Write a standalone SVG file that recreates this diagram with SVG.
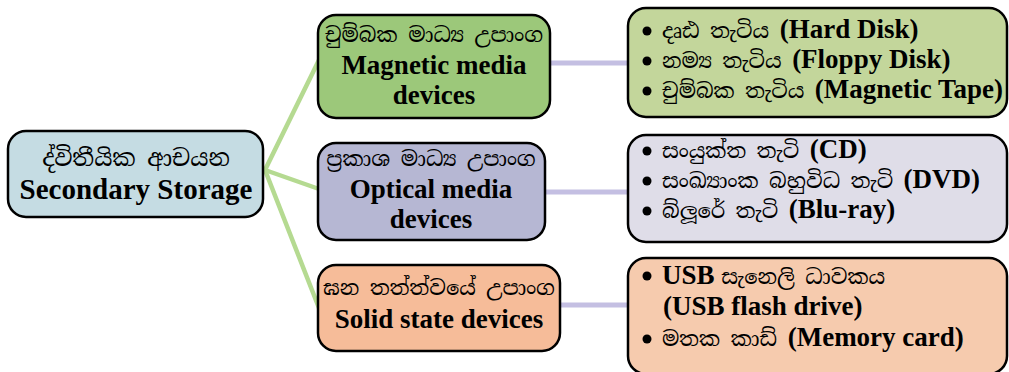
<svg xmlns="http://www.w3.org/2000/svg" width="1009" height="372" viewBox="0 0 1009 372">
<style>
.box{stroke:#000;stroke-width:2.5}
.si{font-family:'Noto Serif Sinhala','Noto Sans Sinhala','Liberation Serif',serif;font-size:21px;fill:#000}
.en{font-family:'Liberation Serif','DejaVu Serif',serif;font-weight:bold;font-size:27px;fill:#000}
.c{text-anchor:middle}
.g{stroke:#b5da91;stroke-width:4.5;fill:none;stroke-linecap:round}
.v{stroke:#c4bfe2;stroke-width:5;fill:none}
</style>
<rect width="1009" height="372" fill="#fff"/>
<g id="connectors">
<line class="g" x1="265" y1="170" x2="319" y2="60"/>
<line class="g" x1="265" y1="170" x2="319" y2="189"/>
<line class="g" x1="265" y1="170" x2="319" y2="308"/>
<line class="v" x1="550" y1="63" x2="628" y2="63"/>
<line class="v" x1="545" y1="192" x2="628" y2="192"/>
<line class="v" x1="560" y1="305" x2="628" y2="305"/>
</g>
<g id="secondary-storage">
<rect class="box" x="8" y="131" width="255" height="86" rx="18" fill="#c5dce3"/>
<text class="si c" x="136" y="166" style="font-size:23px">ද්විතීයික ආචයන</text>
<text class="en c" x="136" y="199" style="font-size:29px">Secondary Storage</text>
</g>
<g id="magnetic">
<rect class="box" x="318" y="15" width="232" height="103" rx="18" fill="#9cc87a"/>
<text class="si c" x="434" y="42">චුම්බක මාධ්‍ය උපාංග</text>
<text class="en c" x="434" y="74">Magnetic media</text>
<text class="en c" x="434" y="104">devices</text>
</g>
<g id="optical">
<rect class="box" x="318" y="143" width="227" height="97" rx="18" fill="#b6b7d3"/>
<text class="si c" x="431" y="166">ප්‍රකාශ මාධ්‍ය උපාංග</text>
<text class="en c" x="431" y="198">Optical media</text>
<text class="en c" x="431" y="228">devices</text>
</g>
<g id="solid">
<rect class="box" x="318" y="265" width="242" height="86" rx="18" fill="#f6bc99"/>
<text class="si c" x="439" y="295">ඝන තත්ත්වයේ උපාංග</text>
<text class="en c" x="439" y="328">Solid state devices</text>
</g>
<g id="magnetic-list">
<rect class="box" x="628" y="8" width="379" height="109" rx="18" fill="#c3d69b"/>
<circle cx="647" cy="31" r="4.5"/><circle cx="647" cy="61" r="4.5"/><circle cx="647" cy="91" r="4.5"/>
<text x="662" y="38"><tspan class="si">දෘඪ තැටිය </tspan><tspan class="en">(Hard Disk)</tspan></text>
<text x="662" y="68"><tspan class="si">නම්‍ය තැටිය </tspan><tspan class="en">(Floppy Disk)</tspan></text>
<text x="662" y="98"><tspan class="si">චුම්බක තැටිය </tspan><tspan class="en">(Magnetic Tape)</tspan></text>
</g>
<g id="optical-list">
<rect class="box" x="628" y="135" width="379" height="107" rx="18" fill="#dfdde8"/>
<circle cx="647" cy="151" r="4.5"/><circle cx="647" cy="181" r="4.5"/><circle cx="647" cy="211" r="4.5"/>
<text x="662" y="158"><tspan class="si">සංයුක්ත තැටි </tspan><tspan class="en">(CD)</tspan></text>
<text x="662" y="188"><tspan class="si">සංඛ්‍යාංක බහුවිධ තැටි </tspan><tspan class="en">(DVD)</tspan></text>
<text x="662" y="218"><tspan class="si">බ්ලූරේ තැටි </tspan><tspan class="en">(Blu-ray)</tspan></text>
</g>
<g id="solid-list">
<rect class="box" x="628" y="258" width="379" height="116" rx="18" fill="#f6cbae"/>
<circle cx="647" cy="276" r="4.5"/><circle cx="647" cy="339" r="4.5"/>
<text x="662" y="284"><tspan class="en">USB </tspan><tspan class="si">සැනෙලි ධාවකය</tspan></text>
<text class="en" x="663" y="315">(USB flash drive)</text>
<text x="662" y="346"><tspan class="si">මතක කාඩ් </tspan><tspan class="en">(Memory card)</tspan></text>
</g>
</svg>
